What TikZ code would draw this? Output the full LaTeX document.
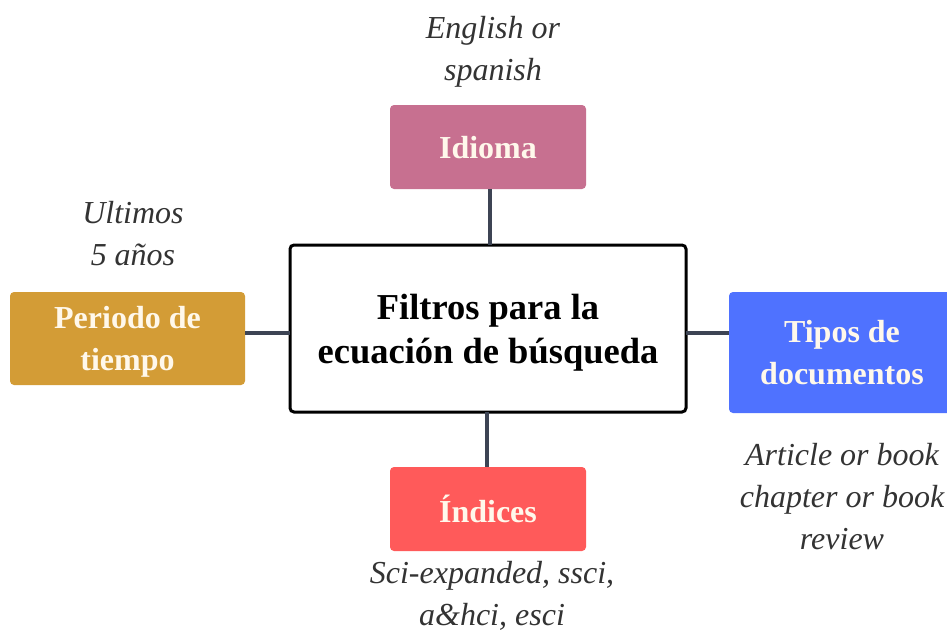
\documentclass[tikz,border=0pt]{standalone}
\usepackage{fontspec}
\setmainfont{Liberation Serif}
\definecolor{idiomacol}{HTML}{C77090}
\definecolor{periodocol}{HTML}{D39C36}
\definecolor{tiposcol}{HTML}{4F72FF}
\definecolor{indicescol}{HTML}{FF5A5A}
\definecolor{lineacol}{HTML}{3D4454}
\definecolor{crema}{HTML}{FFF8EB}
\definecolor{notacol}{HTML}{333333}
\tikzset{
  filtro/.style={draw=black, line width=3pt, rounded corners=4pt, fill=white,
    inner sep=0pt, align=center, text depth=0pt, font=\fontsize{36.5}{44}\selectfont\bfseries},
  rama/.style={rounded corners=4pt, inner sep=0pt, align=center, text=crema, text depth=0pt,
    font=\fontsize{32}{42}\selectfont\bfseries},
  nota/.style={align=center, text=notacol, font=\fontsize{32}{42}\selectfont\itshape},
  enlace/.style={draw=lineacol, line width=4pt}
}
\begin{document}
\begin{tikzpicture}[x=1pt, y=-1pt]
  \useasboundingbox (0,0) rectangle (947,633);

  % Enlaces (ends hidden under the boxes)
  \coordinate (izq) at (290,333);
  \coordinate (der) at (686,333);
  \coordinate (arr) at (490,245);
  \coordinate (aba) at (487,412);

  % Cajas
  \node[filtro, minimum width=396pt, minimum height=167pt] (filtros) at (488,328.5)
    {Filtros para la\\ecuación de búsqueda};
  \node[rama, fill=idiomacol, minimum width=196pt, minimum height=84pt] (idioma) at (488,147) {Idioma};
  \node[rama, fill=periodocol, minimum width=235pt, minimum height=93pt] (periodo) at (127.5,338.5) {Periodo de\\tiempo};
  \node[rama, fill=tiposcol, minimum width=226pt, minimum height=121pt] (tipos) at (842,352.5) {Tipos de\\documentos};
  \node[rama, fill=indicescol, minimum width=196pt, minimum height=84pt] (indices) at (488,509) {Índices};

  \draw[enlace] (arr) -- (arr |- idioma.south);
  \draw[enlace] (aba) -- (aba |- indices.north);
  \draw[enlace] (izq) -- (izq -| periodo.east);
  \draw[enlace] (der) -- (der -| tipos.west);

  % Notas
  \node[nota] (notaidioma) at (493,52) {English or\\spanish};
  \node[nota] (notaperiodo) at (133,234) {Ultimos\\5 años};
  \node[nota] (notatipos) at (842,497) {Article or book\\chapter or book\\review};
  \node[nota] (notaindices) at (492,596) {Sci-expanded, ssci,\\a\&hci, esci};
\end{tikzpicture}
\end{document}
